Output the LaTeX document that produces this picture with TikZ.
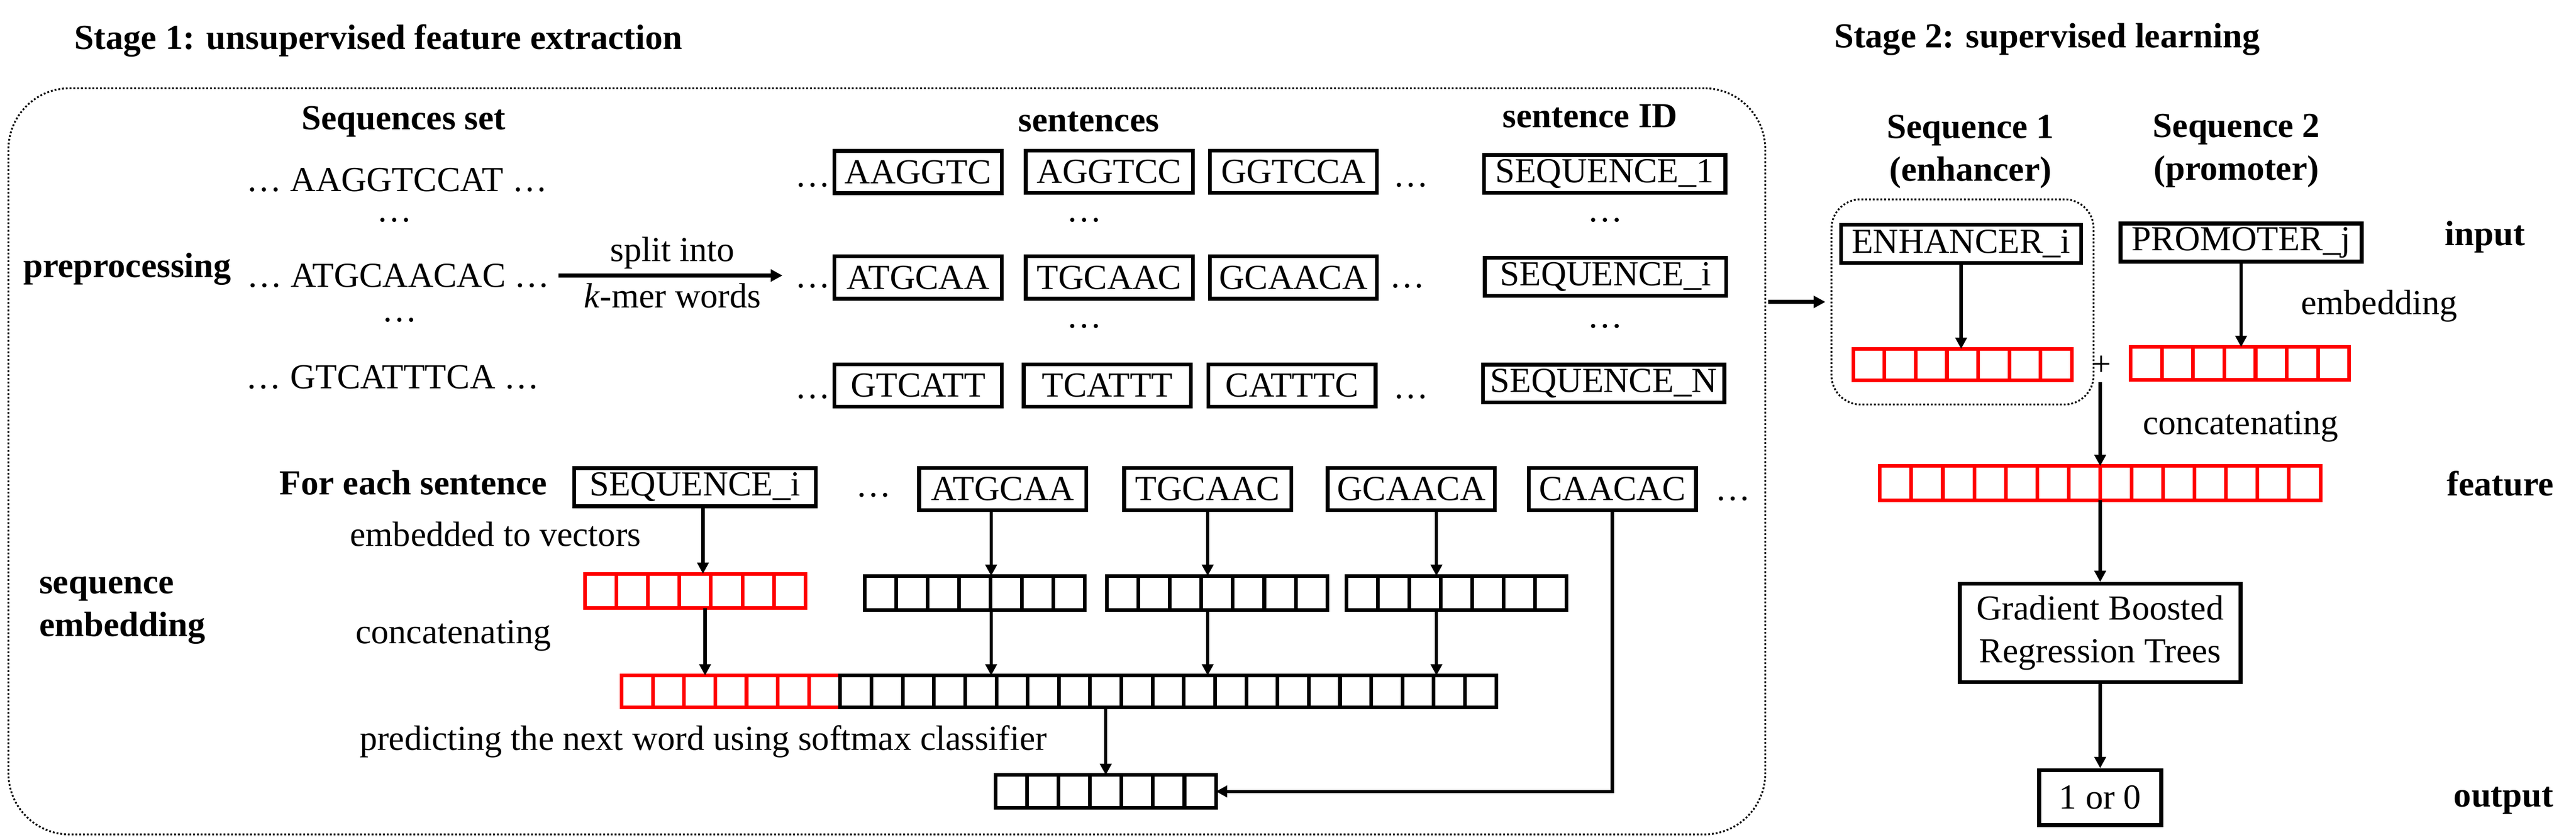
\documentclass[tikz,border=0pt]{standalone}
\usepackage{fontspec}
\setmainfont{Liberation Serif}
\usetikzlibrary{arrows.meta,calc,positioning}
\newcommand{\diafont}{\fontsize{21.3pt}{25.9pt}\selectfont}
\newcommand{\cellsplit}[3]{%
  \foreach \k in {1,...,#2}
    \draw[#3, line width=2.2pt] ($(#1.south west)!{\k/#2}!(#1.south east)$) -- ($(#1.north west)!{\k/#2}!(#1.north east)$);
}

\begin{document}
\begin{tikzpicture}[every node/.style={font=\diafont}]
    \tikzstyle{lbl} = [inner sep=0pt, anchor=base]
    \tikzstyle{head} = [inner sep=0pt, anchor=base, font=\diafont\bfseries]
    \tikzstyle{word} = [rectangle, draw, line width=2.3pt, minimum width=3.56cm, minimum height=0.9cm, inner sep=0pt]
    \tikzstyle{tag} = [word, minimum width=5.14cm, minimum height=0.81cm]
    \tikzstyle{vec} = [rectangle, draw, line width=2.2pt, minimum height=0.73cm, inner sep=0pt, outer sep=0pt]
    \tikzstyle{redvec} = [vec, draw=red]
    \tikzstyle{group} = [rectangle, draw, line width=1.1pt, dash pattern=on 1.1pt off 1.2pt, inner sep=0pt]
    \tikzstyle{arr} = [-{Triangle[length=0.24cm,width=0.24cm]}, line width=2pt]
    \tikzstyle{bigarr} = [-{Triangle[length=0.25cm,width=0.25cm]}, line width=2.4pt]
  \useasboundingbox (0,0) rectangle (54.84,-17.88);
  \node[head](stageonetitle) at (8.06,-1.05) {Stage 1: unsupervised feature extraction};
  \node[head](stagetwotitle) at (43.58,-1.02) {Stage 2: supervised learning};
  \node[group, rounded corners=1.3cm, minimum width=37.40cm, minimum height=15.89cm](stageone) at (18.88,-9.825) {};
  \node[group, rounded corners=0.62cm, minimum width=5.58cm, minimum height=4.37cm](enhgroup) at (41.78,-6.43) {};
  \node[head](setlabel) at (8.59,-2.76) {Sequences set};
  \node[head](sentlabel) at (23.18,-2.80) {sentences};
  \node[head](idlabel) at (33.85,-2.72) {sentence ID};
  \node[head](prep) at (2.71,-5.91) {preprocessing};
  \node[lbl](seqa) at (8.45,-4.07) {… AAGGTCCAT …};
  \node[lbl](gapa) at (8.40,-4.72) {…};
  \node[lbl](seqb) at (8.48,-6.11) {… ATGCAACAC …};
  \node[lbl](gapb) at (8.51,-6.85) {…};
  \node[lbl](seqc) at (8.36,-8.27) {… GTCATTTCA …};
  \node[lbl](dotsa) at (17.30,-3.98) {…};
  \node[word](a1) at (19.545,-3.665) {AAGGTC};
  \node[word](a2) at (23.615,-3.66) {AGGTCC};
  \node[word](a3) at (27.535,-3.66) {GGTCCA};
  \node[lbl](enda) at (30.04,-3.98) {…};
  \node[tag](ida) at (34.16,-3.705) {SEQUENCE\_1};
  \node[lbl](mida) at (23.08,-4.72) {…};
  \node[lbl](midida) at (34.17,-4.72) {…};
  \node[lbl](dotsb) at (17.30,-6.13) {…};
  \node[word](b1) at (19.545,-5.91) {ATGCAA};
  \node[word](b2) at (23.615,-5.91) {TGCAAC};
  \node[word](b3) at (27.535,-5.91) {GCAACA};
  \node[lbl](endb) at (29.96,-6.13) {…};
  \node[tag](idb) at (34.18,-5.895) {SEQUENCE\_i};
  \node[lbl](midb) at (23.08,-6.98) {…};
  \node[lbl](midib) at (34.17,-6.98) {…};
  \node[lbl](dotsc) at (17.30,-8.48) {…};
  \node[word](c1) at (19.545,-8.21) {GTCATT};
  \node[word](c2) at (23.575,-8.21) {TCATTT};
  \node[word](c3) at (27.505,-8.21) {CATTTC};
  \node[lbl](endc) at (30.04,-8.48) {…};
  \node[tag](idc) at (34.14,-8.17) {SEQUENCE\_N};
  \node[head](foreach) at (8.80,-10.53) {For each sentence};
  \node[tag](seqi) at (14.795,-10.375) {SEQUENCE\_i};
  \node[lbl](dotsw) at (18.60,-10.58) {…};
  \node[word](w1) at (21.345,-10.415) {ATGCAA};
  \node[word](w2) at (25.71,-10.415) {TGCAAC};
  \node[word](w3) at (30.045,-10.415) {GCAACA};
  \node[word](w4) at (34.325,-10.415) {CAACAC};
  \node[lbl](dotsend) at (36.89,-10.66) {…};
  \node[lbl](embedlabel) at (10.55,-11.63) {embedded to vectors};
  \node[head, anchor=west, align=left](seqemb) at (0.83,-13.0) {sequence\\embedding};
  \node[lbl](concatone) at (9.65,-13.70) {concatenating};
  \node[lbl, anchor=base west](predict) at (7.65,-15.97) {predicting the next word using softmax classifier};
  \node[redvec, minimum width=7*0.67cm](rv) at (14.80,-12.585) {};
  \cellsplit{rv}{7}{red}
  \node[vec, minimum width=7*0.67cm](bv1) at (20.75,-12.63) {};
  \cellsplit{bv1}{7}{black}
  \node[vec, minimum width=7*0.67cm](bv2) at (25.91,-12.63) {};
  \cellsplit{bv2}{7}{black}
  \node[vec, minimum width=7*0.67cm](bv3) at (31.005,-12.63) {};
  \cellsplit{bv3}{7}{black}
  \node[redvec, minimum width=7*0.665cm, minimum height=0.68cm](lvr) at (15.56,-14.725) {};
  \cellsplit{lvr}{7}{red}
  \node[vec, minimum width=21*0.665cm, minimum height=0.68cm, right=0pt of lvr](lvb) {};
  \cellsplit{lvb}{21}{black}
  \node[vec, minimum width=7*0.67cm, minimum height=0.70cm](ov) at (23.54,-16.855) {};
  \cellsplit{ov}{7}{black}
  \node[head, align=center](seqone) at (41.95,-3.86) {Sequence 1\\(enhancer)};
  \node[head, align=center](seqtwo) at (47.61,-3.83) {Sequence 2\\(promoter)};
  \node[tag, minimum width=5.11cm](enh) at (41.75,-5.195) {ENHANCER\_i};
  \node[tag, minimum width=5.13cm](prom) at (47.71,-5.165) {PROMOTER\_j};
  \node[head](inputlabel) at (52.90,-5.23) {input};
  \node[redvec, minimum width=7*0.665cm, minimum height=0.67cm](ev) at (41.78,-7.765) {};
  \cellsplit{ev}{7}{red}
  \node[redvec, minimum width=7*0.665cm, minimum height=0.70cm](pv) at (47.685,-7.74) {};
  \cellsplit{pv}{7}{red}
  \node[lbl](embedtwo) at (50.65,-6.70) {embedding};
  \node[lbl](plus) at (44.74,-8.00) {+};
  \node[lbl](concattwo) at (47.70,-9.25) {concatenating};
  \node[redvec, minimum width=14*0.67cm](fv) at (44.71,-10.29) {};
  \cellsplit{fv}{14}{red}
  \node[head](featurelabel) at (53.23,-10.56) {feature};
  \node[rectangle, draw, line width=2.3pt, minimum width=5.98cm, minimum height=2.09cm, align=center](gbrt) at (44.71,-13.48) {Gradient Boosted\\Regression Trees};
  \node[rectangle, draw, line width=2.3pt, minimum width=2.60cm, minimum height=1.17cm](result) at (44.71,-16.985) {1 or 0};
  \node[head](outputlabel) at (53.30,-17.18) {output};
  \draw[bigarr, shorten <=0.18cm, shorten >=0.26cm] (seqb.east) -- node[above, inner sep=0.1cm]{split into} node[below, inner sep=0.12cm]{\textit{k}-mer words} (seqb.east -| dotsb.west);
  \draw[bigarr, shorten <=0.04cm, shorten >=0.11cm] (stageone.east |- enhgroup.west) -- (enhgroup.west);
  \draw[arr] ([xshift=0.17cm]seqi.south) -- ([xshift=0.17cm]seqi.south |- rv.north);
  \draw[arr] ([xshift=0.21cm]rv.south) -- ([xshift=0.21cm]rv.south |- lvr.north);
  \draw[arr] ([xshift=-0.245cm]w1.south) -- ([xshift=-0.245cm]w1.south |- bv1.north);
  \draw[arr] ([xshift=-0.245cm]w1.south |- bv1.south) -- ([xshift=-0.245cm]w1.south |- lvb.north);
  \draw[arr] (w2.south) -- (w2.south |- bv2.north);
  \draw[arr] (w2.south |- bv2.south) -- (w2.south |- lvb.north);
  \draw[arr] ([xshift=0.535cm]w3.south) -- ([xshift=0.535cm]w3.south |- bv3.north);
  \draw[arr] ([xshift=0.535cm]w3.south |- bv3.south) -- ([xshift=0.535cm]w3.south |- lvb.north);
  \draw[arr] (ov.north |- lvb.south) -- (ov.north);
  \draw[arr] (w4.south) |- (ov.east);
  \draw[arr] (enh.south) -- (enh.south |- ev.north);
  \draw[arr] (prom.south) -- (prom.south |- pv.north);
  \draw[arr, shorten <=0.13cm] (fv.north |- plus.south) -- (fv.north);
  \draw[arr] (fv.south) -- (gbrt.north);
  \draw[arr] (gbrt.south) -- (result.north);
  \end{tikzpicture}
\end{document}
